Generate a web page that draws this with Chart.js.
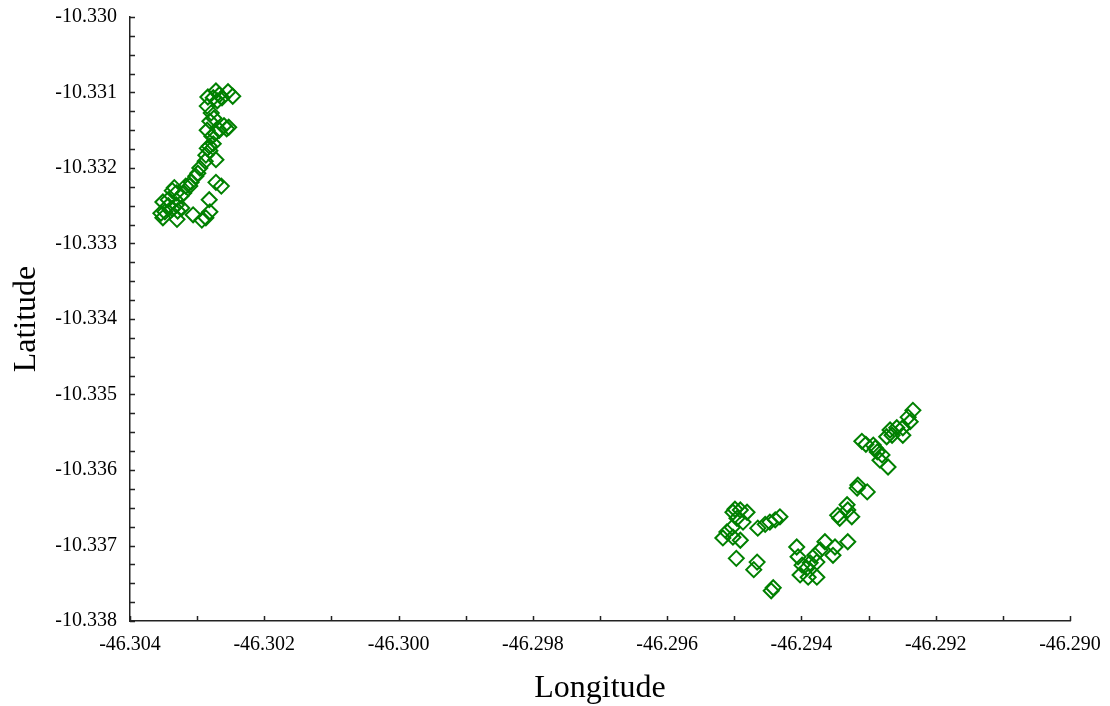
<!DOCTYPE html>
<html>
<head>
<meta charset="utf-8">
<script src="https://cdn.jsdelivr.net/npm/chart.js@4/dist/chart.umd.min.js"></script>
<style>
  html, body { margin: 0; padding: 0; background: #fff; }
  #wrap { width: 1110px; height: 706px; }
</style>
</head>
<body>
<div id="wrap"><canvas id="myChart" width="1110" height="706"></canvas></div>
<script>
// Data
  const longitude = [
    // north-west group
    -46.30272, -46.30254, -46.30247, -46.30267, -46.30276, -46.30284, -46.30270, -46.30263,
    -46.30285, -46.30279, -46.30275, -46.30281, -46.30260, -46.30253, -46.30256, -46.30267,
    -46.30273, -46.30285, -46.30278, -46.30276, -46.30282, -46.30285, -46.30281, -46.30287,
    -46.30272, -46.30288, -46.30296, -46.30299, -46.30302, -46.30309, -46.30311, -46.30317,
    -46.30272, -46.30264, -46.30320, -46.30324, -46.30334, -46.30337, -46.30331, -46.30351,
    -46.30343, -46.30343, -46.30337, -46.30348, -46.30354, -46.30351, -46.30330, -46.30323,
    -46.30331, -46.30282, -46.30281, -46.30287, -46.30293, -46.30306, -46.30329,
    // south-east group
    -46.29234, -46.29241, -46.29238, -46.29249, -46.29258, -46.29249, -46.29268, -46.29265,
    -46.29273, -46.29310, -46.29304, -46.29293, -46.29290, -46.29287, -46.29280, -46.29283,
    -46.29271, -46.29316, -46.29317, -46.29302, -46.29332, -46.29331, -46.29346, -46.29343,
    -46.29325, -46.29331, -46.29350, -46.29353, -46.29365, -46.29372, -46.29380, -46.29377,
    -46.29387, -46.29392, -46.29407, -46.29405, -46.29399, -46.29402, -46.29390, -46.29377,
    -46.29499, -46.29502, -46.29491, -46.29481, -46.29496, -46.29487, -46.29503, -46.29511,
    -46.29517, -46.29502, -46.29491, -46.29465, -46.29454, -46.29447, -46.29439, -46.29432,
    -46.29497, -46.29466, -46.29471, -46.29442, -46.29445
  ];

  const latitude = [
    // north-west group
    -10.33098, -10.33099, -10.33105, -10.33103, -10.33107, -10.33106, -10.33111, -10.33107,
    -10.33118, -10.33127, -10.33134, -10.33138, -10.33144, -10.33146, -10.33148, -10.33150,
    -10.33154, -10.33150, -10.33158, -10.33168, -10.33171, -10.33174, -10.33177, -10.33183,
    -10.33189, -10.33191, -10.33200, -10.33207, -10.33211, -10.33219, -10.33224, -10.33224,
    -10.33219, -10.33224, -10.33233, -10.33237, -10.33226, -10.33230, -10.33233, -10.33245,
    -10.33242, -10.33250, -10.33254, -10.33258, -10.33260, -10.33266, -10.33268, -10.33253,
    -10.33249, -10.33242, -10.33258, -10.33266, -10.33269, -10.33262, -10.33257,
    // south-east group
    -10.33521, -10.33530, -10.33536, -10.33544, -10.33544, -10.33554, -10.33547, -10.33554,
    -10.33556, -10.33562, -10.33566, -10.33567, -10.33571, -10.33576, -10.33580, -10.33587,
    -10.33596, -10.33620, -10.33624, -10.33629, -10.33646, -10.33653, -10.33660, -10.33664,
    -10.33662, -10.33695, -10.33702, -10.33713, -10.33695, -10.33706, -10.33713, -10.33722,
    -10.33723, -10.33730, -10.33702, -10.33715, -10.33726, -10.33739, -10.33742, -10.33742,
    -10.33652, -10.33656, -10.33653, -10.33656, -10.33664, -10.33669, -10.33676, -10.33682,
    -10.33690, -10.33689, -10.33693, -10.33677, -10.33672, -10.33669, -10.33666, -10.33662,
    -10.33717, -10.33722, -10.33732, -10.33756, -10.33760
  ];

  const xTicks = [-46.304, -46.302, -46.300, -46.298, -46.296, -46.294, -46.292, -46.290];
  const yTicks = [-10.338, -10.337, -10.336, -10.335, -10.334, -10.333, -10.332, -10.331, -10.330];

  const points = longitude.map((lon, i) => ({ x: lon, y: latitude[i] }));

  const serif = "'Liberation Serif', 'Times New Roman', serif";
  const axisColor = '#222';

// inward tick marks (major + minor), drawn from the scales
  const innerTicks = {
    id: 'innerTicks',
    afterDraw(chart) {
      const ctx = chart.ctx;
      const xs = chart.scales.x, ys = chart.scales.y;
      const area = chart.chartArea;
      ctx.save();
      ctx.strokeStyle = axisColor;
      ctx.lineWidth = 1.5;
      ctx.beginPath();
      for (let i = 0; i <= 14; i++) {
        const px = Math.round(xs.getPixelForValue(xTicks[0] + i * 0.001)) + 0.5;
        ctx.moveTo(px, area.bottom);
        ctx.lineTo(px, area.bottom - 5);
      }
      for (let i = 0; i <= 32; i++) {
        const py = Math.round(ys.getPixelForValue(yTicks[0] + i * 0.00025)) + 0.5;
        ctx.moveTo(area.left, py);
        ctx.lineTo(area.left + 5, py);
      }
      ctx.stroke();
      ctx.restore();
    }
  };

  const config = {
    type: 'scatter',
    data: {
      datasets: [{
        label: 'points',
        data: points,
        pointStyle: 'rectRot',
        pointRadius: 7.5,
        pointBorderWidth: 2,
        borderColor: 'rgb(0, 128, 0)',
        backgroundColor: 'rgba(0, 0, 0, 0)'
      }]
    },
    options: {
      responsive: false,
      animation: false,
      layout: { padding: { top: 17, right: 40, left: 0, bottom: 0 } },
      plugins: {
        legend: { display: false },
        tooltip: { enabled: false }
      },
      scales: {
        x: {
          type: 'linear',
          min: -46.304,
          max: -46.290,
          afterFit: (s) => { s.height = 85; s.paddingLeft = 0; s.paddingRight = 0; },
          afterBuildTicks: (s) => { s.ticks = xTicks.map(v => ({ value: v })); },
          grid: { display: false, drawTicks: false },
          border: { display: true, color: axisColor, width: 1.5 },
          ticks: {
            padding: 12,
            color: '#000',
            font: { family: serif, size: 20 },
            callback: (v) => v.toFixed(3)
          },
          title: {
            display: true,
            text: 'Longitude',
            color: '#000',
            padding: { top: 0, bottom: -2 },
            font: { family: serif, size: 32 }
          }
        },
        y: {
          type: 'linear',
          min: -10.338,
          max: -10.330,
          afterFit: (s) => { s.width = 130; s.paddingTop = 0; s.paddingBottom = 0; },
          afterBuildTicks: (s) => { s.ticks = yTicks.map(v => ({ value: v })); },
          grid: { display: false, drawTicks: false },
          border: { display: true, color: axisColor, width: 1.5 },
          ticks: {
            padding: 13,
            color: '#000',
            font: { family: serif, size: 20 },
            callback: (v) => v.toFixed(3)
          },
          title: {
            display: true,
            text: 'Latitude',
            color: '#000',
            padding: { top: 7, bottom: 0 },
            font: { family: serif, size: 32 }
          }
        }
      }
    },
    plugins: [innerTicks]
  };

  const myChart = new Chart(document.getElementById('myChart'), config);
</script>
</body>
</html>
